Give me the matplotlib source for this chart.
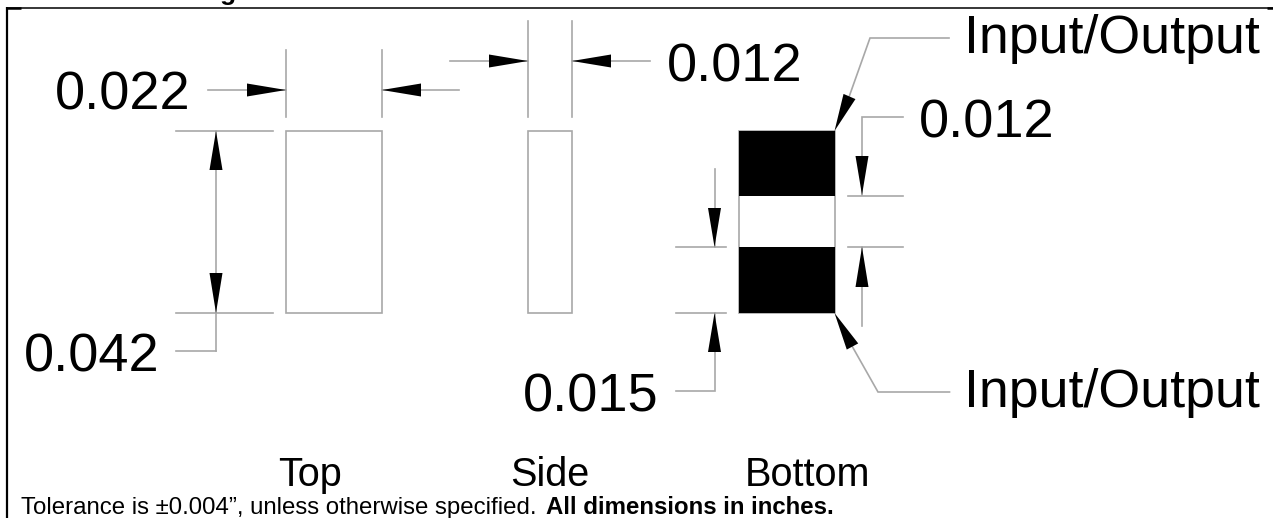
import matplotlib
matplotlib.use("Agg")
import matplotlib.pyplot as plt
from matplotlib.patches import Polygon, Rectangle

plt.rcParams['font.family'] = ['Liberation Sans', 'DejaVu Sans']

W = 1273
H = 518
GREY = "#a8a8a8"

# dimension labels, positions are left edge and baseline
dim_labels = ["0.022", "0.012", "0.012", "0.042", "0.015"]
dim_x = [55, 666.5, 919, 24, 522.5]
dim_y = [110, 81, 137, 372, 411]

io_labels = ["Input/Output", "Input/Output"]
io_x = [964, 964]
io_y = [53, 407]

view_labels = ["Top", "Side", "Bottom"]
view_x = [310, 550, 808]
view_y = [486, 486, 486]

# outlines of the top and side views: x, y, width, height
top_view = (286, 131, 96, 182)
side_view = (528, 131, 44, 182)

# bottom view body and pads
bottom_body = (739, 131, 95.5, 182)
pad_top = (739, 131, 95.5, 65)
pad_bottom = (739, 247, 95.5, 66)

# thin dimension lines, (x list, y list)
thin_lines = [
    ([286, 286], [50, 117]),
    ([382, 382], [50, 117]),
    ([528, 528], [21, 117]),
    ([572, 572], [21, 117]),
    ([208, 286], [90, 90]),
    ([382, 459], [90, 90]),
    ([450, 528], [61, 61]),
    ([572, 650], [61, 61]),
    ([176, 273], [131, 131]),
    ([176, 273], [313, 313]),
    ([216, 216], [131, 351]),
    ([176, 216], [351, 351]),
    ([949, 870, 849], [38, 38, 97]),
    ([949.5, 878, 852], [392, 392, 346]),
    ([902.5, 862, 862], [117, 117, 195]),
    ([848, 902.5], [196, 196]),
    ([848, 902.5], [247, 247]),
    ([862, 862], [247, 326]),
    ([675.5, 725.5], [247, 247]),
    ([675.5, 725.5], [313, 313]),
    ([714.5, 714.5], [169, 247]),
    ([714.5, 714.5, 675.5], [313, 391, 391]),
]

# arrow heads: tip x, tip y, base x, base y
arrow_tip_x = [286, 382, 528, 572, 216, 216, 834.5, 834.5, 862, 862, 714.5, 714.5]
arrow_tip_y = [90, 90, 61, 61, 131, 313, 131, 313, 195, 247, 247, 313]
arrow_base_x = [247, 421, 489, 611, 216, 216, 849.5, 852.5, 862, 862, 714.5, 714.5]
arrow_base_y = [90, 90, 61, 61, 170, 273, 96.5, 346.5, 156, 287, 208, 352]

fig = plt.figure(figsize=(W / 100, H / 100), dpi=100)
ax = fig.add_axes([0, 0, 1, 1])
ax.set_xlim(0, W)
ax.set_ylim(H, 0)
ax.axis("off")

# frame round the drawing
ax.plot([7, 7], [7, H], color="black", lw=1.6, solid_capstyle="butt")
ax.plot([7, W], [7.5, 7.5], color="black", lw=1.1, solid_capstyle="butt")
ax.plot([7, 21], [8, 8], color="black", lw=1.8, solid_capstyle="butt")
ax.plot([1267, W], [8, 8], color="black", lw=1.8, solid_capstyle="butt")

# only the tail of the cut off heading is left on the picture
ax.text(220, -0.3, "g", fontsize=19, fontweight="bold", ha="left", va="baseline")

ax.add_patch(Rectangle(top_view[:2], top_view[2], top_view[3], fill=False, ec=GREY, lw=1.2))
ax.add_patch(Rectangle(side_view[:2], side_view[2], side_view[3], fill=False, ec=GREY, lw=1.2))

ax.add_patch(Rectangle(bottom_body[:2], bottom_body[2], bottom_body[3], fill=False, ec=GREY, lw=1.2))
ax.add_patch(Rectangle(pad_top[:2], pad_top[2], pad_top[3], fc="black", ec="none"))
ax.add_patch(Rectangle(pad_bottom[:2], pad_bottom[2], pad_bottom[3], fc="black", ec="none"))

for xs, ys in thin_lines:
    ax.plot(xs, ys, color=GREY, lw=1.2, solid_joinstyle="miter")

for tx, ty, bx, by in zip(arrow_tip_x, arrow_tip_y, arrow_base_x, arrow_base_y):
    length = ((bx - tx) ** 2 + (by - ty) ** 2) ** 0.5
    nx, ny = -(by - ty) / length * 6.5, (bx - tx) / length * 6.5
    ax.add_patch(Polygon([(tx, ty), (bx + nx, by + ny), (bx - nx, by - ny)], fc="black", ec="none", zorder=3))

for t, x, y in zip(dim_labels, dim_x, dim_y):
    ax.text(x, y, t, fontsize=39, ha="left", va="baseline", color="black")
for t, x, y in zip(io_labels, io_x, io_y):
    ax.text(x, y, t, fontsize=38.7, ha="left", va="baseline", color="black")
for t, x, y in zip(view_labels, view_x, view_y):
    ax.text(x, y, t, fontsize=28.5, ha="center", va="baseline", color="black")

ax.text(21, 514, "Tolerance is \u00b10.004\u201d, unless otherwise specified.", fontsize=17.3, ha="left", va="baseline")
ax.text(546, 514, "All dimensions in inches.", fontsize=17.3, fontweight="bold", ha="left", va="baseline")

fig.savefig("out.png", dpi=100)
